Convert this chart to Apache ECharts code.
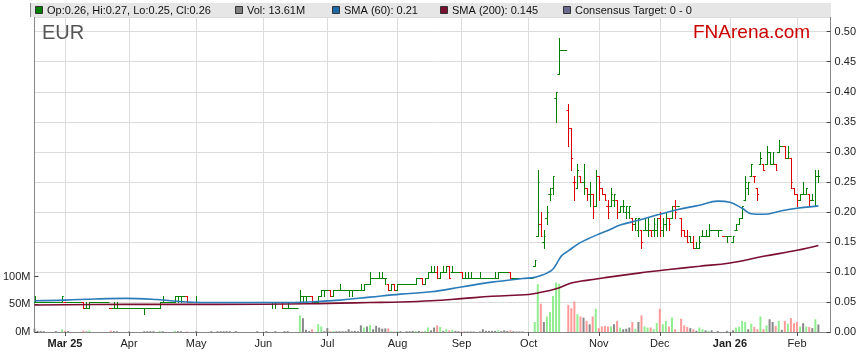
<!DOCTYPE html>
<html><head><meta charset="utf-8">
<script src="https://cdn.jsdelivr.net/npm/echarts@6/dist/echarts.min.js"></script>
<style>html,body{margin:0;padding:0;background:#fff}#c{width:859px;height:363px}</style>
</head><body><div id="c"></div>
<script>
// ---- axis structure ----
const startDate = '2025-02-17';
const nCategories = 262;
const monthDates = ['2025-03-03','2025-04-01','2025-05-01','2025-06-02','2025-07-01','2025-08-01','2025-09-01','2025-10-01','2025-11-03','2025-12-01','2026-01-01','2026-02-02'];
const monthLabels = ['Mar 25','Apr','May','Jun','Jul','Aug','Sep','Oct','Nov','Dec','Jan 26','Feb'];
const priceTicks = [0,0.05,0.10,0.15,0.20,0.25,0.30,0.35,0.40,0.45,0.50];
const volTicks = [0,50,100];

// ---- daily OHLC + volume (M), one entry per weekday from startDate ----
const open = [
.05,.05,.05,.05,.05,.05,.05,.05,.05,.05,
.05,.05,.05,.05,.05,.05,.05,.04,.04,.05,
.05,.05,.05,.05,.05,.04,.04,.04,.04,.04,
.04,.04,.04,.04,.04,.04,.04,.04,.04,.04,
.04,.04,.05,.05,.05,.05,.05,.06,.06,.06,
.06,.05,.05,.05,.05,.05,.05,.05,.05,.05,
.05,.05,.05,.05,.05,.05,.05,.05,.05,.05,
.05,.05,.05,.05,.05,.05,.05,.05,.05,.05,
.05,.05,.04,.04,.04,.04,.04,.05,.06,.06,
.06,.06,.05,.05,.06,.07,.07,.07,.06,.07,
.07,.07,.07,.07,.07,.07,.07,.07,.07,.08,
.08,.09,.09,.09,.09,.09,.08,.07,.08,.07,
.08,.08,.08,.08,.08,.08,.09,.09,.08,.09,
.10,.10,.10,.09,.10,.10,.11,.10,.10,.10,
.10,.09,.09,.09,.09,.09,.09,.09,.09,.09,
.09,.09,.09,.10,.10,.10,.10,.09,.09,.09,
.09,.09,.09,.09,.11,.16,.18,.15,.19,.23,
.24,.39,.43,.47,.47,.37,.34,.25,.24,.26,
.25,.24,.23,.23,.21,.26,.24,.23,.21,.21,
.22,.22,.20,.21,.20,.20,.19,.18,.17,.17,
.17,.17,.17,.17,.17,.19,.17,.18,.19,.19,
.21,.21,.19,.17,.16,.16,.15,.14,.14,.16,
.16,.16,.17,.17,.17,.17,.16,.16,.16,.15,
.17,.18,.19,.22,.24,.26,.26,.24,.28,.28,
.28,.30,.28,.28,.30,.31,.31,.29,.29,.24,
.23,.22,.23,.23,.23,.22,.21,.26];
const high = [
.06,.05,.05,.05,.05,.05,.05,.05,.05,.06,
.05,.05,.05,.05,.05,.05,.05,.05,.05,.05,
.05,.05,.05,.05,.05,.04,.05,.05,.04,.04,
.04,.04,.04,.04,.04,.04,.04,.04,.04,.04,
.04,.05,.06,.05,.05,.05,.06,.06,.06,.06,
.06,.05,.05,.06,.05,.05,.05,.05,.05,.05,
.05,.05,.05,.05,.05,.05,.05,.05,.05,.05,
.05,.05,.05,.05,.05,.05,.05,.05,.05,.05,
.05,.05,.04,.05,.04,.04,.04,.07,.06,.06,
.06,.06,.05,.06,.07,.07,.07,.07,.07,.07,
.08,.07,.07,.07,.07,.07,.07,.08,.08,.08,
.10,.09,.09,.10,.10,.09,.08,.08,.08,.08,
.08,.08,.08,.08,.08,.09,.09,.09,.09,.10,
.11,.11,.11,.10,.11,.11,.11,.11,.10,.10,
.10,.10,.10,.10,.09,.09,.10,.09,.09,.09,
.09,.10,.10,.10,.10,.10,.10,.09,.09,.09,
.09,.09,.09,.09,.12,.27,.20,.17,.21,.24,
.26,.40,.49,.47,.47,.38,.34,.26,.28,.26,
.28,.24,.25,.23,.27,.26,.24,.23,.22,.24,
.23,.22,.21,.22,.21,.21,.19,.19,.19,.17,
.19,.19,.17,.19,.19,.20,.19,.20,.19,.21,
.22,.21,.19,.17,.17,.16,.16,.15,.16,.17,
.17,.18,.17,.17,.17,.17,.16,.16,.16,.16,
.18,.19,.21,.26,.25,.28,.26,.24,.30,.28,
.31,.30,.30,.28,.32,.31,.31,.31,.29,.24,
.23,.23,.25,.24,.23,.23,.27,.27];
const low = [
.05,.05,.05,.05,.05,.05,.05,.05,.05,.05,
.05,.05,.05,.05,.05,.05,.04,.04,.04,.05,
.05,.05,.05,.05,.05,.04,.04,.04,.04,.04,
.04,.04,.04,.04,.04,.04,.03,.04,.04,.04,
.04,.04,.05,.05,.05,.05,.05,.05,.05,.06,
.05,.05,.05,.05,.05,.05,.05,.05,.05,.05,
.05,.05,.05,.05,.05,.05,.05,.05,.05,.05,
.05,.05,.05,.05,.05,.05,.05,.05,.04,.04,
.05,.04,.04,.04,.04,.04,.04,.05,.05,.05,
.06,.05,.05,.05,.06,.06,.07,.06,.06,.07,
.07,.07,.07,.06,.06,.07,.07,.07,.07,.08,
.08,.09,.09,.09,.09,.08,.07,.07,.07,.07,
.08,.08,.08,.08,.08,.08,.09,.08,.08,.09,
.10,.10,.09,.09,.10,.10,.09,.10,.10,.10,
.09,.09,.09,.09,.09,.09,.09,.09,.09,.09,
.09,.09,.09,.10,.10,.10,.09,.09,.09,.09,
.09,.09,.09,.09,.11,.16,.16,.14,.18,.22,
.23,.35,.43,.47,.47,.31,.27,.22,.24,.25,
.23,.22,.21,.19,.21,.22,.23,.22,.19,.21,
.21,.19,.20,.20,.19,.19,.17,.17,.16,.14,
.17,.16,.16,.16,.16,.16,.16,.17,.17,.19,
.19,.21,.16,.16,.15,.15,.14,.14,.14,.16,
.16,.16,.17,.17,.16,.17,.16,.15,.16,.15,
.17,.18,.19,.22,.23,.26,.25,.22,.28,.27,
.28,.28,.28,.27,.30,.31,.29,.29,.24,.23,
.21,.22,.23,.23,.21,.22,.21,.25];
const close = [
.05,.05,.05,.05,.05,.05,.05,.05,.05,.06,
.05,.05,.05,.05,.05,.05,.04,.04,.05,.05,
.05,.05,.05,.05,.05,.04,.04,.04,.04,.04,
.04,.04,.04,.04,.04,.04,.04,.04,.04,.04,
.04,.05,.05,.05,.05,.05,.06,.06,.06,.06,
.05,.05,.05,.05,.05,.05,.05,.05,.05,.05,
.05,.05,.05,.05,.05,.05,.05,.05,.05,.05,
.05,.05,.05,.05,.05,.05,.05,.05,.05,.05,
.05,.04,.04,.04,.04,.04,.04,.06,.06,.06,
.06,.05,.05,.06,.07,.07,.07,.06,.07,.07,
.07,.07,.07,.07,.07,.07,.07,.07,.08,.08,
.09,.09,.09,.09,.09,.09,.07,.08,.07,.08,
.08,.08,.08,.08,.08,.09,.09,.08,.09,.10,
.10,.10,.09,.10,.10,.11,.09,.10,.10,.10,
.09,.09,.09,.09,.09,.09,.09,.09,.09,.09,
.09,.09,.10,.10,.10,.10,.09,.09,.09,.09,
.09,.09,.09,.09,.12,.25,.16,.16,.20,.23,
.26,.40,.47,.47,.47,.34,.29,.25,.27,.25,
.25,.23,.23,.20,.26,.25,.23,.22,.20,.23,
.23,.20,.21,.21,.21,.21,.18,.19,.19,.15,
.17,.18,.16,.18,.19,.17,.18,.19,.18,.21,
.20,.21,.17,.16,.15,.15,.14,.14,.15,.16,
.16,.17,.17,.17,.17,.17,.16,.16,.16,.16,
.17,.19,.21,.25,.25,.28,.26,.23,.29,.27,
.30,.30,.30,.27,.31,.31,.29,.30,.25,.23,
.22,.23,.23,.24,.22,.22,.26,.26];
const volume = [
6,2,2,1.5,0,0,0,1.5,0,4.5,
2,1.5,0,0,0,0,2.5,1,2.5,0,
0,0,0,0,0,2.5,1.5,1.5,0,0,
0,1,0,0,0,0,1.5,1.5,1.5,1.5,
0,2,1.5,0,0,0,2,1.5,1.5,0,
1,0,0,1.5,0,0,0,0,1.5,0,
1.5,1.5,1.5,1.5,1.5,0,1.5,0,0,0,
0,0,0,1.5,0,0,1.5,0,0,1.5,
0,0,1.5,1.5,0,0,0,30,25,4,
1.5,5,0,14,10,1.5,7,1.5,2,1.5,
1.5,1.5,1.5,5,1.5,2,1.5,12,8,10,
12.5,5,11,8,6,6.5,6.5,1.5,1,1.5,
1.5,0,1.5,1.5,2,2,2,1,2,8,
3,8,12,9,2,5,3,4,2,1.5,
1,1,1,1,1,0,1,5,2,2,
2,2,3,1.5,3,2,3,1.5,1,1,
1,0,0,0,18,86,51,18,28,36,
65,89,87,0,0,49,43,55,32,28,
26,20,14,28,42,7,10,11,10,10,
14,20,8,5,6,8,18,6,18,30,
10,8,8,5,16,42,14,20,10,26,
5,0,24,12,9,7,5,2,8,5,
3,2,3,0,2,0,0,2,0,3,
8,10,20,18,5,15,9,5,28,5,
12,23,18,11,20,4,20,15,25,16,
18,10,16,10,9,7,23,13.61];

// ---- moving averages: [weekday index, value] ----
const sma60 = [[0,.052],[10,.053],[20,.055],[30,.056],[40,.054],[50,.050],[60,.049],[70,.049],[80,.049],[90,.050],[100,.053],[110,.058],[120,.063],[130,.067],[140,.075],[150,.083],[160,.089],[164,.091],[166,.094],[168,.098],[170,.105],[172,.121],[173,.128],[175,.135],[178,.146],[181,.154],[185,.163],[188,.169],[192,.178],[198,.186],[205,.196],[211,.204],[218,.211],[224,.218],[228,.216],[232,.206],[235,.197],[239,.196],[245,.202],[250,.206],[257,.210]];
const sma200 = [[0,.045],[30,.046],[60,.046],[90,.047],[100,.048],[110,.049],[120,.050],[130,.052],[140,.0555],[150,.0595],[162,.0625],[165,.065],[171,.072],[176,.0815],[181,.086],[187,.0905],[198,.098],[208,.104],[218,.1095],[228,.115],[239,.126],[250,.136],[257,.144]];

// ---- legend texts ----
const legendItems = [
  {text:'Op:0.26, Hi:0.27, Lo:0.25, Cl:0.26', color:'#008000', x:35},
  {text:'Vol: 13.61M', color:'#808080', x:235},
  {text:'SMA (60): 0.21', color:'#1a69a8', x:332},
  {text:'SMA (200): 0.145', color:'#7a0f30', x:440},
  {text:'Consensus Target: 0 - 0', color:'#6a6a90', x:563}
];

// build categories (weekdays)
const categories = [];
{
  const d = new Date(startDate + 'T00:00:00Z');
  while (categories.length < nCategories) {
    const wd = d.getUTCDay();
    if (wd !== 0 && wd !== 6) categories.push(d.toISOString().slice(0,10));
    d.setUTCDate(d.getUTCDate() + 1);
  }
}
const UP = '#008000', DOWN = '#dd0000';
const ohlcData = [], volData = [];
for (let i = 0; i < close.length; i++) {
  const prev = i > 0 ? close[i-1] : close[i];
  const up = close[i] >= prev - 1e-9;
  ohlcData.push([i, open[i], high[i], low[i], close[i], up ? 1 : 0]);
  let vc = '#888888';
  if (close[i] > prev + 1e-9) vc = '#90ee90';
  else if (close[i] < prev - 1e-9) vc = '#ff9a9a';
  volData.push({ value: volume[i] > 0 ? volume[i] : null, itemStyle: { color: vc } });
}
const isMonth = (idx, val) => monthDates.indexOf(val) >= 0;
const FONT = 'Liberation Sans, Arial, sans-serif';

function renderOHLC(params, api) {
  const idx = api.value(0);
  const pO = api.coord([idx, api.value(1)]);
  const pH = api.coord([idx, api.value(2)]);
  const pL = api.coord([idx, api.value(3)]);
  const pC = api.coord([idx, api.value(4)]);
  const color = api.value(5) ? UP : DOWN;
  const half = api.size([1, 0])[0] / 2;
  const x = Math.round(pO[0]) + 0.5;
  const yH = Math.round(pH[1]), yL = Math.round(pL[1]);
  const yO = Math.round(pO[1]) + 0.5, yC = Math.round(pC[1]) + 0.5;
  const style = { stroke: color, lineWidth: 1 };
  const ch = [];
  if (yL > yH) ch.push({ type: 'line', shape: { x1: x, y1: yH, x2: x, y2: yL + 1 }, style });
  ch.push({ type: 'line', shape: { x1: pO[0] - half - 0.2, y1: yO, x2: x + 0.5, y2: yO }, style });
  ch.push({ type: 'line', shape: { x1: x - 0.5, y1: yC, x2: pO[0] + half + 0.2, y2: yC }, style });
  return { type: 'group', children: ch };
}

const graphics = [
  { type: 'rect', shape: { x: 31, y: 3, width: 800, height: 14 }, style: { fill: '#e6e6e6' }, z: 10 },
  { type: 'line', shape: { x1: 30.5, y1: 3, x2: 30.5, y2: 17 }, style: { stroke: '#888', lineWidth: 1 }, z: 11 },
  { type: 'text', x: 42, y: 33, style: { text: 'EUR', fill: '#555', font: '20px ' + FONT, textVerticalAlign: 'middle' }, z: 11 },
  { type: 'text', x: 693, y: 33, style: { text: 'FNArena.com', fill: '#cc0000', font: '19px ' + FONT, textVerticalAlign: 'middle' }, z: 11 }
];
legendItems.forEach(it => {
  graphics.push({ type: 'rect', shape: { x: it.x + 0.5, y: 6.5, width: 7, height: 7 }, style: { fill: it.color, stroke: '#333', lineWidth: 1 }, z: 11 });
  graphics.push({ type: 'text', x: it.x + 12, y: 10.5, style: { text: it.text, fill: '#111', font: '11px ' + FONT, textVerticalAlign: 'middle' }, z: 11 });
});

const chart = echarts.init(document.getElementById('c'), null, { renderer: 'canvas' });
chart.setOption({
  animation: false,
  backgroundColor: '#fff',
  grid: { left: 31, right: 28, top: 17, bottom: 31 },
  graphic: graphics,
  xAxis: {
    type: 'category', data: categories, boundaryGap: false,
    axisLine: { lineStyle: { color: '#888' } },
    axisTick: { interval: isMonth, length: 4, lineStyle: { color: '#555' } },
    axisLabel: {
      interval: isMonth, margin: 6, color: '#222', fontSize: 11, fontFamily: FONT,
      formatter: v => { const k = monthDates.indexOf(v); if (k < 0) return ''; const t = monthLabels[k]; return /\d/.test(t) ? '{b|' + t + '}' : t; },
      rich: { b: { fontWeight: 'bold', fontSize: 11, fontFamily: FONT, color: '#222' } }
    },
    splitLine: { show: true, interval: isMonth, lineStyle: { color: '#dcdcdc' } }
  },
  yAxis: [
    { type: 'value', position: 'right', min: 0, max: 0.5245, interval: 0.05,
      axisLine: { show: true, lineStyle: { color: '#888' } },
      axisTick: { show: true, inside: true, length: 4, lineStyle: { color: '#444' } },
      axisLabel: { showMaxLabel: false, margin: 4, color: '#222', fontSize: 11, fontFamily: FONT, formatter: v => v.toFixed(2) },
      splitLine: { show: true, lineStyle: { color: '#dcdcdc' } } },
    { type: 'value', position: 'left', min: 0, max: 568, interval: 50,
      axisLine: { show: true, lineStyle: { color: '#888' } },
      axisTick: { show: true, inside: true, length: 4, customValues: volTicks, lineStyle: { color: '#444' } },
      axisLabel: { customValues: volTicks, margin: 4, color: '#222', fontSize: 11, fontFamily: FONT, formatter: v => v + 'M' },
      splitLine: { show: false } }
  ],
  series: [
    { type: 'bar', yAxisIndex: 1, data: volData, barWidth: 2, z: 2 },
    { type: 'custom', yAxisIndex: 0, data: ohlcData, renderItem: renderOHLC, encode: { x: 0, y: [1,2,3,4] }, z: 3, clip: true },
    { type: 'line', yAxisIndex: 0, data: sma200, smooth: 0.4, showSymbol: false, lineStyle: { color: '#7a0f30', width: 1.6 }, z: 4 },
    { type: 'line', yAxisIndex: 0, data: sma60, smooth: 0.4, showSymbol: false, lineStyle: { color: '#2b7bb9', width: 1.6 }, z: 4 }
  ]
});
</script>
</body></html>
